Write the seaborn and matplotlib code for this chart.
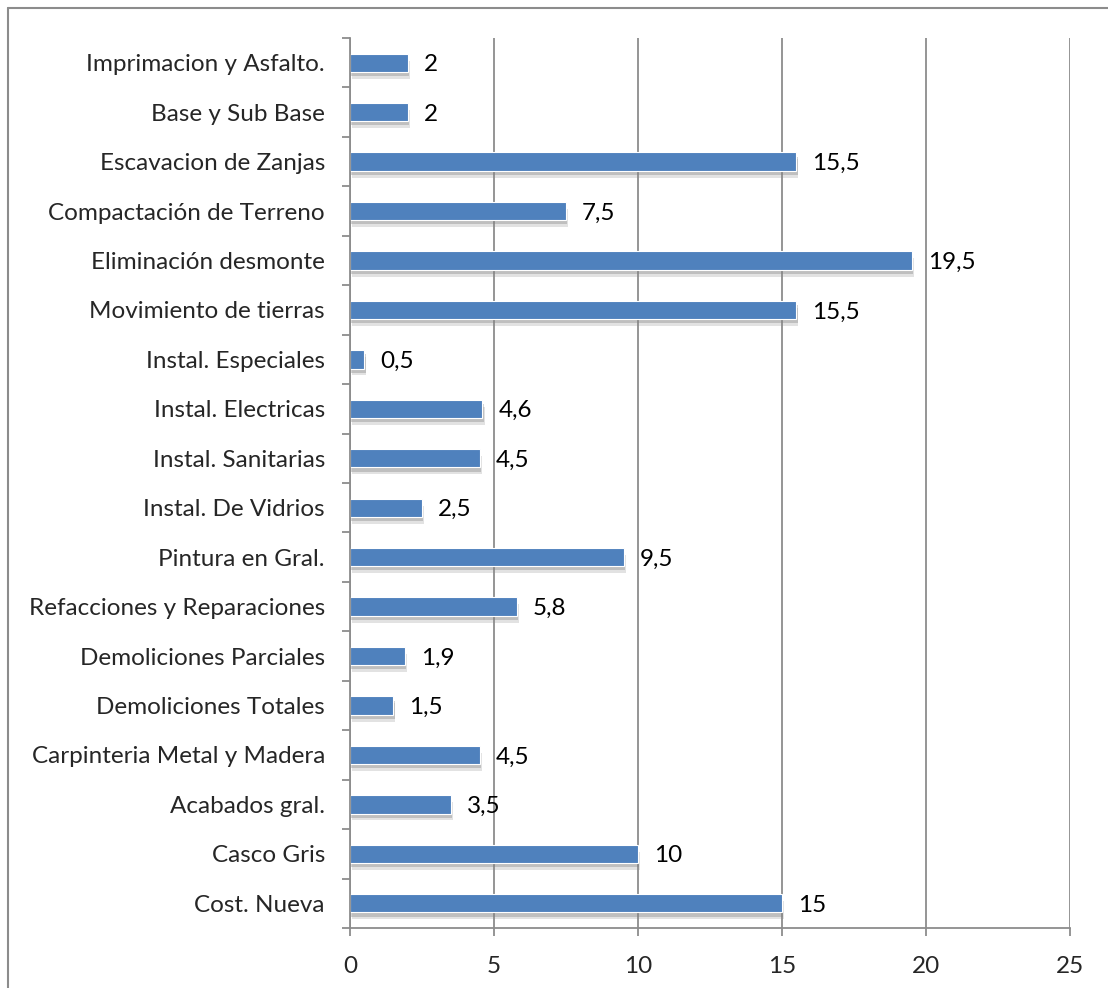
import numpy as np
import pandas as pd
import matplotlib
matplotlib.use("Agg")
import matplotlib.pyplot as plt
import matplotlib.patheffects as pe
from matplotlib.lines import Line2D
import seaborn as sns

categorias = ["Imprimacion y Asfalto.", "Base y Sub Base", "Escavacion de Zanjas",
              "Compactación de Terreno", "Eliminación desmonte", "Movimiento de tierras",
              "Instal. Especiales", "Instal. Electricas", "Instal. Sanitarias",
              "Instal. De Vidrios", "Pintura en Gral.", "Refacciones y Reparaciones",
              "Demoliciones Parciales", "Demoliciones Totales", "Carpinteria Metal y Madera",
              "Acabados gral.", "Casco Gris", "Cost. Nueva"]
valores = [2, 2, 15.5, 7.5, 19.5, 15.5, 0.5, 4.6, 4.5, 2.5, 9.5, 5.8, 1.9, 1.5, 4.5, 3.5, 10, 15]
etiquetas = ["2", "2", "15,5", "7,5", "19,5", "15,5", "0,5", "4,6", "4,5", "2,5", "9,5",
             "5,8", "1,9", "1,5", "4,5", "3,5", "10", "15"]
xticks = [0, 5, 10, 15, 20, 25]

sns.set_style("white")
plt.rcParams["font.family"] = ["Lato", "DejaVu Sans"]
fs = 17.5

df = pd.DataFrame({"cat": categorias, "val": valores})

fig = plt.figure(figsize=(11.08, 9.88), dpi=100)
ax = fig.add_axes([350 / 1108, 1 - 928 / 988, 720 / 1108, 890 / 988])

sns.barplot(data=df, y="cat", x="val", orient="h", color="#4F81BD", saturation=1,
            width=0.37, edgecolor="white", linewidth=0.8, ax=ax)

# soft shadow under the bars
for p in ax.patches:
    p.set_path_effects([pe.SimplePatchShadow(offset=(1.5, -5), shadow_rgbFace="0.55", alpha=0.25),
                        pe.SimplePatchShadow(offset=(1, -3), shadow_rgbFace="0.5", alpha=0.35),
                        pe.Normal()])

for i, (v, t) in enumerate(zip(valores, etiquetas)):
    ax.annotate(t, (v, i), xytext=(16, -2), textcoords="offset pixels",
                va="center", ha="left", fontsize=fs, color="black")

ax.set_xlim(0, 25)
ax.set_ylim(len(categorias) - 0.5, -0.5)
ax.set_xticks(xticks)
ax.set_xticklabels([str(x) for x in xticks], fontsize=fs)
ax.tick_params(axis="x", bottom=True, length=6, width=1.3, color="#8c8c8c", pad=14)
ax.tick_params(axis="y", which="major", left=True, length=0, labelsize=fs, pad=18)
ax.set_yticks(np.arange(-0.5, len(categorias), 1), minor=True)
ax.tick_params(axis="y", which="minor", left=True, length=6, width=1.3, color="#8c8c8c")
ax.set_xlabel("")
ax.set_ylabel("")

ax.xaxis.grid(True, color="#8c8c8c", linewidth=1.3)
ax.yaxis.grid(False)
ax.set_axisbelow(True)
for s in ["top", "right"]:
    ax.spines[s].set_visible(False)
for s in ["left", "bottom"]:
    ax.spines[s].set_color("#8c8c8c")
    ax.spines[s].set_linewidth(1.3)

# chart border (top and left edges visible, the rest cut by the image)
fig.add_artist(Line2D([8 / 1108, 8 / 1108], [0, 1 - 8 / 988], transform=fig.transFigure,
                      color="#8c8c8c", linewidth=1.5))
fig.add_artist(Line2D([8 / 1108, 1], [1 - 8 / 988, 1 - 8 / 988], transform=fig.transFigure,
                      color="#8c8c8c", linewidth=1.5))

fig.savefig("out.png", dpi=100)
